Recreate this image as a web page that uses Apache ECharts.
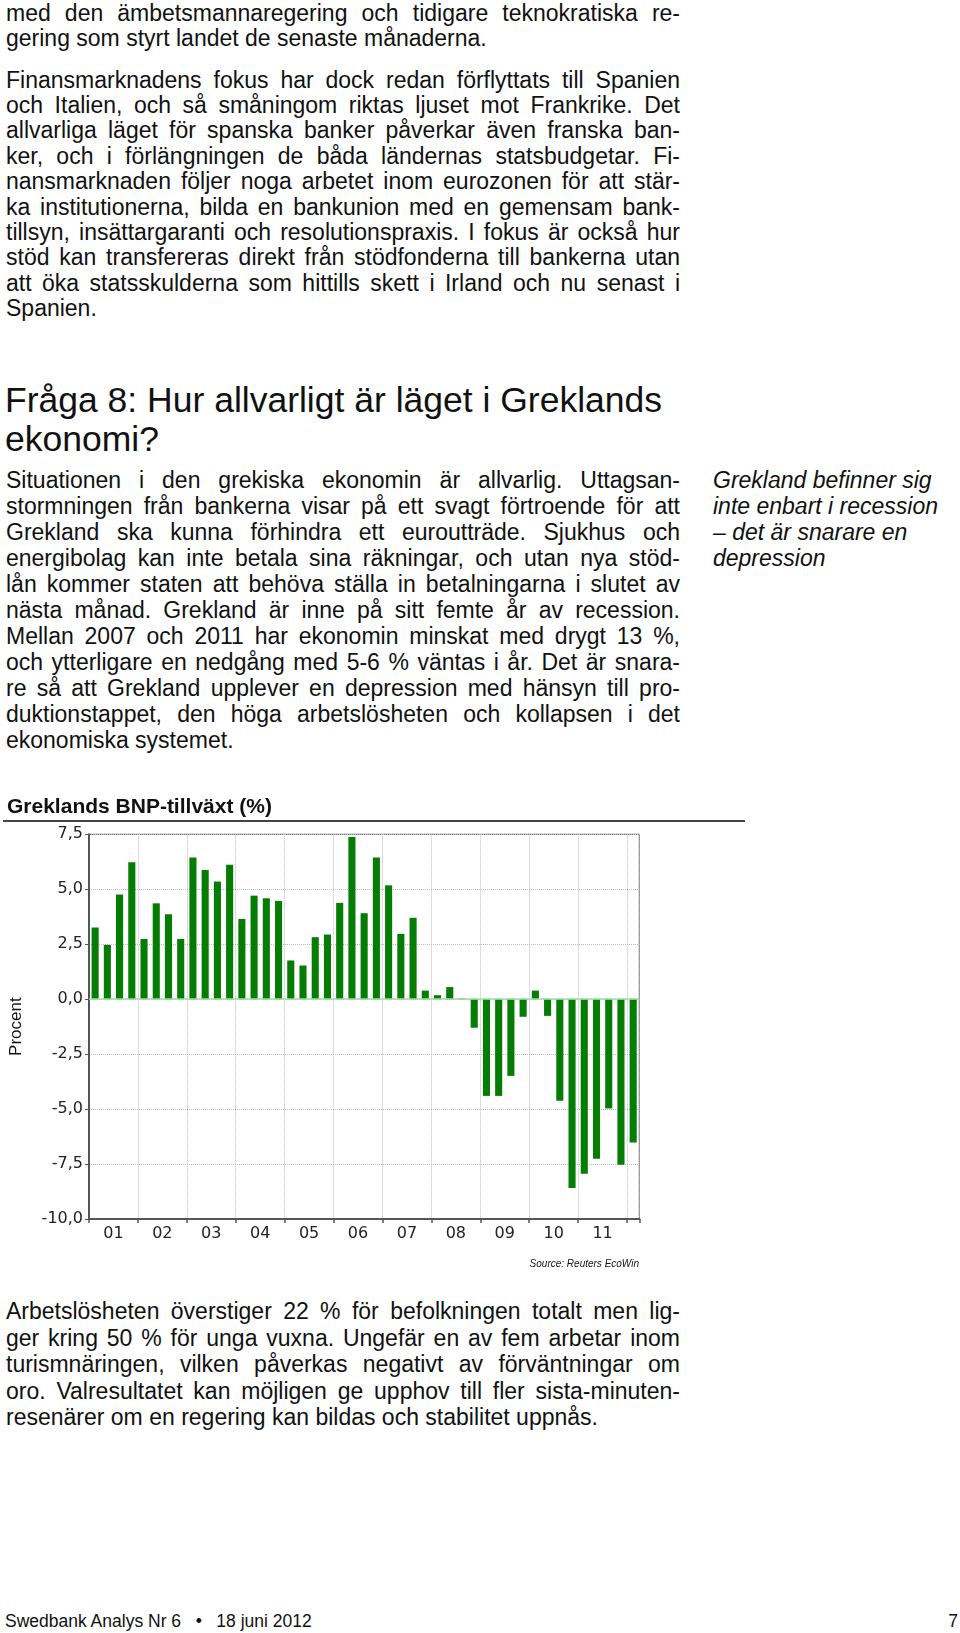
<!DOCTYPE html>
<html><head><meta charset="utf-8">
<script src="https://cdn.jsdelivr.net/npm/echarts@6/dist/echarts.min.js"></script>
<style>
html,body{margin:0;padding:0;background:#fff;}
#page{position:relative;width:960px;height:1633px;overflow:hidden;background:#fff;font-family:"Liberation Sans",Arial,Helvetica,sans-serif;color:#111;}
.ln{position:absolute;white-space:nowrap;}
.j{white-space:normal;text-align:justify;text-align-last:justify;}
.pre{white-space:pre;}
#chart{position:absolute;left:0;top:790px;width:760px;height:490px;}
#rule{position:absolute;left:3px;top:820px;width:742px;height:2px;background:#444;}
</style></head><body><div id="page"><div id="chart"></div><div id="rule"></div></div>
<script>
// ---- chart data ----
const quarters = [
 '2001K1','2001K2','2001K3','2001K4','2002K1','2002K2','2002K3','2002K4',
 '2003K1','2003K2','2003K3','2003K4','2004K1','2004K2','2004K3','2004K4',
 '2005K1','2005K2','2005K3','2005K4','2006K1','2006K2','2006K3','2006K4',
 '2007K1','2007K2','2007K3','2007K4','2008K1','2008K2','2008K3','2008K4',
 '2009K1','2009K2','2009K3','2009K4','2010K1','2010K2','2010K3','2010K4',
 '2011K1','2011K2','2011K3','2011K4','2012K1'];
const gdpGrowth = [
 3.26, 2.47, 4.76, 6.23, 2.74, 4.36, 3.86, 2.74,
 6.45, 5.88, 5.35, 6.11, 3.65, 4.71, 4.59, 4.47,
 1.76, 1.53, 2.82, 2.94, 4.38, 7.38, 3.91, 6.45,
 5.18, 2.97, 3.70, 0.39, 0.18, 0.55, 0.03, -1.30,
 -4.40, -4.40, -3.49, -0.80, 0.39, -0.76, -4.62, -8.59,
 -7.94, -7.26, -4.97, -7.53, -6.52];
const yearLabels = ['01','02','03','04','05','06','07','08','09','10','11'];
const yearLabelPos = [2, 6, 10, 14, 18, 22, 26, 30, 34, 38, 42];
const chartTitle = 'Greklands BNP-tillväxt (%)';
const yAxisName = 'Procent';
const sourceText = 'Source: Reuters EcoWin';

// ---- page text ----
const page = document.getElementById('page');
function addLine(text, x, cy, o) {
  o = o || {};
  const size = o.size || 23;
  const d = document.createElement('div');
  d.className = 'ln' + (o.j ? ' j' : '') + (o.pre ? ' pre' : '');
  d.textContent = text;
  d.style.left = x + 'px';
  d.style.top = (cy - 0.59 * size) + 'px';
  d.style.fontSize = size + 'px';
  d.style.lineHeight = (1.2 * size) + 'px';
  if (o.w) d.style.width = o.w + 'px';
  if (o.italic) d.style.fontStyle = 'italic';
  if (o.bold) d.style.fontWeight = 'bold';
  if (o.right) { d.style.left = 'auto'; d.style.right = (960 - x) + 'px'; }
  page.appendChild(d);
}
const BX = 6, BW = 674;
function para(lines, cys) {
  lines.forEach((t, i) => addLine(t, BX, cys[i], i < lines.length - 1 ? {j: true, w: BW} : {}));
}
para(['med den ämbetsmannaregering och tidigare teknokratiska re-',
      'gering som styrt landet de senaste månaderna.'], [13.5, 38.9]);
para(['Finansmarknadens fokus har dock redan förflyttats till Spanien',
      'och Italien, och så småningom riktas ljuset mot Frankrike. Det',
      'allvarliga läget för spanska banker påverkar även franska ban-',
      'ker, och i förlängningen de båda ländernas statsbudgetar. Fi-',
      'nansmarknaden följer noga arbetet inom eurozonen för att stär-',
      'ka institutionerna, bilda en bankunion med en gemensam bank-',
      'tillsyn, insättargaranti och resolutionspraxis. I fokus är också hur',
      'stöd kan transfereras direkt från stödfonderna till bankerna utan',
      'att öka statsskulderna som hittills skett i Irland och nu senast i',
      'Spanien.'], [80.2,105.6,131,156.4,181.8,207.2,232.6,258,283.4,308.8]);
addLine('Fråga 8: Hur allvarligt är läget i Greklands', 5, 399.8, {size: 35.5});
addLine('ekonomi?', 5, 439.4, {size: 35.5});
para(['Situationen i den grekiska ekonomin är allvarlig. Uttagsan-',
      'stormningen från bankerna visar på ett svagt förtroende för att',
      'Grekland ska kunna förhindra ett euroutträde. Sjukhus och',
      'energibolag kan inte betala sina räkningar, och utan nya stöd-',
      'lån kommer staten att behöva ställa in betalningarna i slutet av',
      'nästa månad. Grekland är inne på sitt femte år av recession.',
      'Mellan 2007 och 2011 har ekonomin minskat med drygt 13 %,',
      'och ytterligare en nedgång med 5-6 % väntas i år. Det är snara-',
      're så att Grekland upplever en depression med hänsyn till pro-',
      'duktionstappet, den höga arbetslösheten och kollapsen i det',
      'ekonomiska systemet.'], [481,507,533,559,585,611,637,663,689,715,741]);
['Grekland befinner sig','inte enbart i recession','– det är snarare en','depression']
  .forEach((t, i) => addLine(t, 713, [481,507,533,559][i], {italic: true}));
addLine(chartTitle, 7, 805, {size: 21, bold: true});
para(['Arbetslösheten överstiger 22 % för befolkningen totalt men lig-',
      'ger kring 50 % för unga vuxna. Ungefär en av fem arbetar inom',
      'turismnäringen, vilken påverkas negativt av förväntningar om',
      'oro. Valresultatet kan möjligen ge upphov till fler sista-minuten-',
      'resenärer om en regering kan bildas och stabilitet uppnås.'], [1312,1338.5,1365,1391.5,1418]);
addLine('Swedbank Analys Nr 6   •   18 juni 2012', 5, 1621, {size: 17.5, pre: true});
addLine('7', 958, 1621, {size: 17.5, right: true});

// ---- chart ----
const chart = echarts.init(document.getElementById('chart'), null, {renderer: 'canvas'});
const axisFont = {fontFamily: 'DejaVu Sans', fontSize: 16, color: '#222'};
chart.setOption({
  animation: false,
  grid: {left: 86, top: 44.3, width: 553.3, height: 384.7, show: true, borderColor: '#555', borderWidth: 1, containLabel: false},
  xAxis: [{
    type: 'category', data: quarters, boundaryGap: true, position: 'bottom',
    axisLine: {show: true, onZero: false, lineStyle: {color: '#555', width: 2}},
    axisTick: {show: true, interval: 3, length: 4, inside: false, lineStyle: {color: '#555', width: 1.5}},
    axisLabel: {show: false},
    splitLine: {show: true, interval: 3, lineStyle: {color: '#bdbdbd', type: 'dotted', width: 1}}
  }, {
    type: 'value', min: 0, max: 45, position: 'bottom',
    axisLine: {show: false}, axisTick: {show: false}, splitLine: {show: false},
    axisLabel: Object.assign({show: true, margin: 7, customValues: yearLabelPos,
      formatter: v => yearLabels[yearLabelPos.indexOf(v)] || ''}, axisFont)
  }],
  yAxis: {
    type: 'value', min: -10, max: 7.5, interval: 2.5,
    name: yAxisName, nameLocation: 'middle', nameGap: 64, nameRotate: 90,
    nameTextStyle: {fontFamily: 'Liberation Sans', fontSize: 17, color: '#111'},
    axisLine: {show: true, lineStyle: {color: '#555', width: 2}},
    axisTick: {show: true, length: 4, lineStyle: {color: '#555'}},
    axisLabel: Object.assign({margin: 6, formatter: v => v.toFixed(1).replace('.', ',')}, axisFont),
    splitLine: {show: true, lineStyle: {color: '#bdbdbd', type: 'dotted', width: 1}}
  },
  graphic: [{type: 'text', right: 121, top: 469, style: {text: sourceText, fontFamily: 'Liberation Sans', fontStyle: 'italic', fontSize: 10, fill: '#111'}}],
  series: [{
    type: 'bar', xAxisIndex: 0, data: gdpGrowth, barCategoryGap: '42%',
    itemStyle: {color: '#057d05'},
    markLine: {silent: true, symbol: 'none', label: {show: false},
      lineStyle: {color: '#9be09b', type: 'solid', width: 1.5}, data: [{yAxis: 0}]},
    z: 3
  }]
});
</script></body></html>
